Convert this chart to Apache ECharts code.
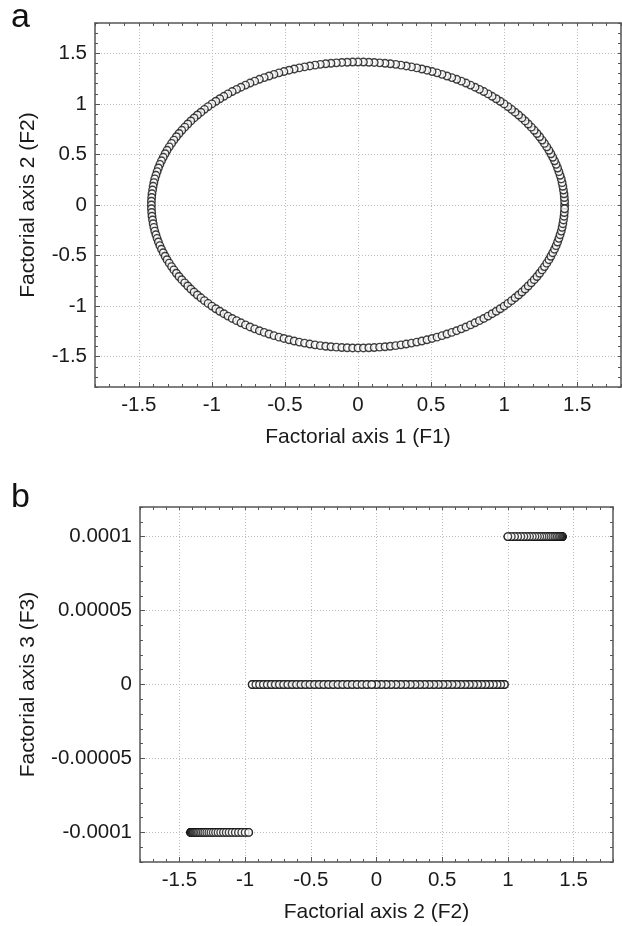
<!DOCTYPE html>
<html>
<head>
<meta charset="utf-8">
<script src="https://cdn.jsdelivr.net/npm/echarts@6/dist/echarts.min.js"></script>
<style>
html,body{margin:0;padding:0;background:#fff;}
#chart{width:622px;height:926px;}
</style>
</head>
<body>
<div id="chart"></div>
<script>
var F1 = [
1.414,1.414,1.412,1.410,1.406,1.402,1.397,1.391,1.383,1.375,1.366,1.356,1.345,1.333,1.320,1.307,1.292,1.276,1.260,1.243,
1.225,1.206,1.186,1.165,1.144,1.122,1.099,1.075,1.051,1.026,1.000,.973,.946,.918,.890,.861,.831,.801,.770,.739,
.707,.675,.642,.609,.575,.541,.507,.472,.437,.402,.366,.330,.294,.258,.221,.185,.148,.111,.074,.037,
0,-.037,-.074,-.111,-.148,-.185,-.221,-.258,-.294,-.330,-.366,-.402,-.437,-.472,-.507,-.541,-.575,-.609,-.642,-.675,
-.707,-.739,-.770,-.801,-.831,-.861,-.890,-.918,-.946,-.973,-1.000,-1.026,-1.051,-1.075,-1.099,-1.122,-1.144,-1.165,-1.186,-1.206,
-1.225,-1.243,-1.260,-1.276,-1.292,-1.307,-1.320,-1.333,-1.345,-1.356,-1.366,-1.375,-1.383,-1.391,-1.397,-1.402,-1.406,-1.410,-1.412,-1.414,
-1.414,-1.414,-1.412,-1.410,-1.406,-1.402,-1.397,-1.391,-1.383,-1.375,-1.366,-1.356,-1.345,-1.333,-1.320,-1.307,-1.292,-1.276,-1.260,-1.243,
-1.225,-1.206,-1.186,-1.165,-1.144,-1.122,-1.099,-1.075,-1.051,-1.026,-1.000,-.973,-.946,-.918,-.890,-.861,-.831,-.801,-.770,-.739,
-.707,-.675,-.642,-.609,-.575,-.541,-.507,-.472,-.437,-.402,-.366,-.330,-.294,-.258,-.221,-.185,-.148,-.111,-.074,-.037,
0,.037,.074,.111,.148,.185,.221,.258,.294,.330,.366,.402,.437,.472,.507,.541,.575,.609,.642,.675,
.707,.739,.770,.801,.831,.861,.890,.918,.946,.973,1.000,1.026,1.051,1.075,1.099,1.122,1.144,1.165,1.186,1.206,
1.225,1.243,1.260,1.276,1.292,1.307,1.320,1.333,1.345,1.356,1.366,1.375,1.383,1.391,1.397,1.402,1.406,1.410,1.412,1.414
];
var F2 = [
0,.037,.074,.111,.148,.185,.221,.258,.294,.330,.366,.402,.437,.472,.507,.541,.575,.609,.642,.675,
.707,.739,.770,.801,.831,.861,.890,.918,.946,.973,1.000,1.026,1.051,1.075,1.099,1.122,1.144,1.165,1.186,1.206,
1.225,1.243,1.260,1.276,1.292,1.307,1.320,1.333,1.345,1.356,1.366,1.375,1.383,1.391,1.397,1.402,1.406,1.410,1.412,1.414,
1.414,1.414,1.412,1.410,1.406,1.402,1.397,1.391,1.383,1.375,1.366,1.356,1.345,1.333,1.320,1.307,1.292,1.276,1.260,1.243,
1.225,1.206,1.186,1.165,1.144,1.122,1.099,1.075,1.051,1.026,1.000,.973,.946,.918,.890,.861,.831,.801,.770,.739,
.707,.675,.642,.609,.575,.541,.507,.472,.437,.402,.366,.330,.294,.258,.221,.185,.148,.111,.074,.037,
0,-.037,-.074,-.111,-.148,-.185,-.221,-.258,-.294,-.330,-.366,-.402,-.437,-.472,-.507,-.541,-.575,-.609,-.642,-.675,
-.707,-.739,-.770,-.801,-.831,-.861,-.890,-.918,-.946,-.973,-1.000,-1.026,-1.051,-1.075,-1.099,-1.122,-1.144,-1.165,-1.186,-1.206,
-1.225,-1.243,-1.260,-1.276,-1.292,-1.307,-1.320,-1.333,-1.345,-1.356,-1.366,-1.375,-1.383,-1.391,-1.397,-1.402,-1.406,-1.410,-1.412,-1.414,
-1.414,-1.414,-1.412,-1.410,-1.406,-1.402,-1.397,-1.391,-1.383,-1.375,-1.366,-1.356,-1.345,-1.333,-1.320,-1.307,-1.292,-1.276,-1.260,-1.243,
-1.225,-1.206,-1.186,-1.165,-1.144,-1.122,-1.099,-1.075,-1.051,-1.026,-1.000,-.973,-.946,-.918,-.890,-.861,-.831,-.801,-.770,-.739,
-.707,-.675,-.642,-.609,-.575,-.541,-.507,-.472,-.437,-.402,-.366,-.330,-.294,-.258,-.221,-.185,-.148,-.111,-.074,-.037
];
var F3 = [
0,0,0,0,0,0,0,0,0,0, 0,0,0,0,0,0,0,0,0,0, 0,0,0,0,0,0,0,0,0,0,
1e-4,1e-4,1e-4,1e-4,1e-4,1e-4,1e-4,1e-4,1e-4,1e-4, 1e-4,1e-4,1e-4,1e-4,1e-4,1e-4,1e-4,1e-4,1e-4,1e-4, 1e-4,1e-4,1e-4,1e-4,1e-4,1e-4,1e-4,1e-4,1e-4,1e-4,
1e-4,1e-4,1e-4,1e-4,1e-4,1e-4,1e-4,1e-4,1e-4,1e-4, 1e-4,1e-4,1e-4,1e-4,1e-4,1e-4,1e-4,1e-4,1e-4,1e-4, 1e-4,1e-4,1e-4,1e-4,1e-4,1e-4,1e-4,1e-4,1e-4,1e-4, 1e-4,
0,0,0,0,0,0,0,0,0,0, 0,0,0,0,0,0,0,0,0,0, 0,0,0,0,0,0,0,0,0,
0,0,0,0,0,0,0,0,0,0, 0,0,0,0,0,0,0,0,0,0, 0,0,0,0,0,0,0,0,0,
-1e-4,-1e-4,-1e-4,-1e-4,-1e-4,-1e-4,-1e-4,-1e-4,-1e-4,-1e-4, -1e-4,-1e-4,-1e-4,-1e-4,-1e-4,-1e-4,-1e-4,-1e-4,-1e-4,-1e-4, -1e-4,-1e-4,-1e-4,-1e-4,-1e-4,-1e-4,-1e-4,-1e-4,-1e-4,-1e-4, -1e-4,
-1e-4,-1e-4,-1e-4,-1e-4,-1e-4,-1e-4,-1e-4,-1e-4,-1e-4,-1e-4, -1e-4,-1e-4,-1e-4,-1e-4,-1e-4,-1e-4,-1e-4,-1e-4,-1e-4,-1e-4, -1e-4,-1e-4,-1e-4,-1e-4,-1e-4,-1e-4,-1e-4,-1e-4,-1e-4,-1e-4, -1e-4,-1e-4,
0,0,0,0,0,0,0,0,0,0, 0,0,0,0,0,0,0,0,0,0, 0,0,0,0,0,0,0,0
];

// tick values and labels
var ticksF = [-1.5, -1, -0.5, 0, 0.5, 1, 1.5];
var ticksFLabels = ['-1.5', '-1', '-0.5', '0', '0.5', '1', '1.5'];
var ticksF3 = [-0.0001, -0.00005, 0, 0.00005, 0.0001];
var ticksF3Labels = ['-0.0001', '-0.00005', '0', '0.00005', '0.0001'];

var chart = echarts.init(document.getElementById('chart'), null, {renderer: 'canvas'});

var FONT = 'Liberation Sans, Arial, sans-serif';
var AXIS_COLOR = '#555555';
var TEXT_COLOR = '#1a1a1a';

function fmt(vals, labels) {
  return function (v) {
    for (var i = 0; i < vals.length; i++) {
      if (Math.abs(v - vals[i]) < Math.abs(vals[1] - vals[0]) * 1e-3) return labels[i];
    }
    return '';
  };
}

function axisSet(kind, grid, min, max, step, majors, labels, name, nameGap) {
  var isX = kind === 'x';
  var main = {
    type: 'value', gridIndex: grid, min: min, max: max, interval: step,
    position: isX ? 'bottom' : 'left',
    name: name, nameLocation: 'middle', nameGap: nameGap,
    nameTextStyle: {fontFamily: FONT, fontSize: 21, color: TEXT_COLOR},
    axisLine: {show: true, onZero: false, lineStyle: {color: AXIS_COLOR, width: 1.5}},
    axisTick: {show: true, inside: true, length: 5, customValues: majors, lineStyle: {color: AXIS_COLOR, width: 1}},
    axisLabel: {show: true, customValues: majors, margin: 8, fontFamily: FONT, fontSize: 20.5, color: TEXT_COLOR,
      formatter: fmt(majors, labels)},
    splitLine: {show: true, lineStyle: {color: '#bdbdbd', width: 1, type: [1, 2]}},
    minorTick: {show: false}
  };
  var minor = {
    type: 'value', gridIndex: grid, min: min, max: max, interval: step,
    position: isX ? 'bottom' : 'left',
    axisLine: {show: false, onZero: false},
    axisTick: {show: true, inside: true, length: 3, lineStyle: {color: AXIS_COLOR, width: 1}},
    axisLabel: {show: false},
    splitLine: {show: false}
  };
  var opposite = {
    type: 'value', gridIndex: grid, min: min, max: max, interval: step,
    position: isX ? 'top' : 'right',
    axisLine: {show: true, onZero: false, lineStyle: {color: AXIS_COLOR, width: 1.5}},
    axisTick: {show: true, inside: true, length: 3, lineStyle: {color: AXIS_COLOR, width: 1}},
    axisLabel: {show: false},
    splitLine: {show: false}
  };
  return [main, minor, opposite];
}

var xAxes = [].concat(
  axisSet('x', 0, -1.8, 1.8, 0.1, ticksF, ticksFLabels, 'Factorial axis 1 (F1)', 40),
  axisSet('x', 1, -1.8, 1.8, 0.1, ticksF, ticksFLabels, 'Factorial axis 2 (F2)', 40)
);
var yAxes = [].concat(
  axisSet('y', 0, -1.8, 1.8, 0.1, ticksF, ticksFLabels, 'Factorial axis 2 (F2)', 56),
  axisSet('y', 1, -0.00012, 0.00012, 0.00001, ticksF3, ticksF3Labels, 'Factorial axis 3 (F3)', 101)
);

var dataA = F1.map(function (v, i) { return [v, F2[i]]; });
var dataB = F2.map(function (v, i) { return [v, F3[i]]; });

var markerStyle = {color: '#ffffff', borderColor: '#111111', borderWidth: 1.4};

chart.setOption({
  animation: false,
  backgroundColor: '#ffffff',
  title: [
    {text: 'a', left: 6, top: -4, textStyle: {fontFamily: FONT, fontSize: 34, fontWeight: 'normal', color: '#111'}},
    {text: 'b', left: 6, top: 476, textStyle: {fontFamily: FONT, fontSize: 34, fontWeight: 'normal', color: '#111'}}
  ],
  grid: [
    {left: 95, top: 23, right: 1, bottom: 539},
    {left: 140, top: 507, right: 9, bottom: 64}
  ],
  xAxis: xAxes,
  yAxis: yAxes,
  series: [
    {type: 'scatter', xAxisIndex: 0, yAxisIndex: 0, data: dataA, symbol: 'circle', symbolSize: 7.5,
      itemStyle: markerStyle, emphasis: {disabled: true}},
    {type: 'scatter', xAxisIndex: 3, yAxisIndex: 3, data: dataB, symbol: 'circle', symbolSize: 7.5,
      itemStyle: markerStyle, emphasis: {disabled: true}}
  ]
});
</script>
</body>
</html>
